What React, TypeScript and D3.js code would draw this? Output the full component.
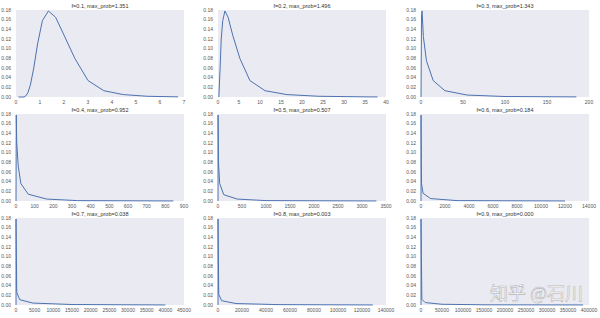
import React from "react";
import * as d3 from "d3";

const titles = [
  "f=0.1, max_prob=1.351",
  "f=0.2, max_prob=1.496",
  "f=0.3, max_prob=1.343",
  "f=0.4, max_prob=0.952",
  "f=0.5, max_prob=0.507",
  "f=0.6, max_prob=0.184",
  "f=0.7, max_prob=0.038",
  "f=0.8, max_prob=0.003",
  "f=0.9, max_prob=0.000",
];

const xs1 = [0.1, 0.33, 0.4, 0.49, 0.6, 0.74, 0.9, 1.1, 1.35, 1.65, 2.0, 2.45, 3.0, 3.66, 4.47, 5.46, 6.75];
const ys1 = [0, 0, 0.002, 0.008, 0.025, 0.06, 0.11, 0.158, 0.178, 0.165, 0.128, 0.08, 0.034, 0.013, 0.005, 0.0015, 0.0003];
const xs2 = [0.2, 0.5, 0.77, 1.13, 1.65, 2.4, 3.5, 5.2, 7.6, 11.2, 16.4, 24, 35, 38];
const ys2 = [0, 0.06, 0.12, 0.158, 0.178, 0.165, 0.128, 0.08, 0.034, 0.013, 0.005, 0.0015, 0.0003, 0.0001];
const xs3 = [0, 0.6, 1.3, 2.8, 6.5, 14.5, 28.5, 55, 100, 185];
const ys3 = [0, 0.17, 0.178, 0.125, 0.075, 0.034, 0.013, 0.004, 0.001, 0.0002];
const xs4 = [0, 1.3, 4, 12, 26, 66, 165, 330, 843];
const ys4 = [0, 0.178, 0.12, 0.072, 0.036, 0.014, 0.004, 0.0008, 0.0001];
const xs5 = [0, 1.3, 10, 35, 120, 400, 1000, 3300];
const ys5 = [0, 0.178, 0.08, 0.036, 0.013, 0.004, 0.0008, 0.0001];
const xs6 = [0, 1.3, 40, 170, 800, 3000, 12000];
const ys6 = [0, 0.178, 0.036, 0.016, 0.005, 0.0008, 0.0001];
const xs7 = [0, 1.3, 200, 1000, 4500, 15000, 40000];
const ys7 = [0, 0.178, 0.026, 0.011, 0.004, 0.001, 0.0001];
const xs8 = [0, 1.3, 600, 3000, 15000, 50000, 129000];
const ys8 = [0, 0.178, 0.022, 0.009, 0.003, 0.0008, 0.0001];
const xs9 = [0, 1.3, 2000, 10000, 50000, 150000, 386000];
const ys9 = [0, 0.178, 0.012, 0.005, 0.0015, 0.0004, 0.0001];

const xMax = [7, 40, 200, 900, 3500, 14000, 45000, 140000, 400000];
const xStep = [1, 5, 50, 100, 500, 2000, 5000, 20000, 50000];
const yTicks = [0, 0.02, 0.04, 0.06, 0.08, 0.1, 0.12, 0.14, 0.16, 0.18];

const allXs = [xs1, xs2, xs3, xs4, xs5, xs6, xs7, xs8, xs9];
const allYs = [ys1, ys2, ys3, ys4, ys5, ys6, ys7, ys8, ys9];

const colLeft = [16, 218, 421];
const rowTop = [10, 114, 218];
const PW = 168;
const PH = 87;
const FONT = "'Liberation Sans', Arial, sans-serif";

function Panel({ i }: { i: number }) {
  const left = colLeft[i % 3];
  const top = rowTop[Math.floor(i / 3)];
  const x = d3.scaleLinear().domain([0, xMax[i]]).range([0, PW]);
  const y = d3.scaleLinear().domain([0, 0.18]).range([PH, 0]);
  const pts = allXs[i].map((v, k) => [v, allYs[i][k]] as [number, number]);
  const line = d3
    .line<[number, number]>()
    .x((d) => x(d[0]))
    .y((d) => y(Math.min(d[1], 0.18)));
  const xt = d3.range(0, xMax[i] + xStep[i] / 2, xStep[i]);
  const fmt = d3.format(".2f");
  return (
    <g transform={`translate(${left},${top})`}>
      <rect x={0} y={0} width={PW} height={PH} fill="#EAEAF2" />
      <path d={line(pts) || ""} fill="none" stroke="#4C72B0" strokeWidth={1} />
      {yTicks.map((t) => (
        <text key={t} x={-5} y={y(t)} dy="0.35em" textAnchor="end" fontSize={5} fill="#555" fontFamily={FONT}>
          {fmt(t)}
        </text>
      ))}
      {xt.map((t) => (
        <text key={t} x={x(t)} y={PH + 7} textAnchor="middle" fontSize={5} fill="#555" fontFamily={FONT}>
          {String(t)}
        </text>
      ))}
      <text x={PW / 2} y={-2.5} textAnchor="middle" fontSize={5.5} fill="#333" fontFamily={FONT}>
        {titles[i]}
      </text>
    </g>
  );
}

export default function App() {
  return (
    <svg width={600} height={318} style={{ position: "absolute", left: 0, top: 0, background: "#fff" }}>
      <rect width={600} height={318} fill="#fff" />
      {titles.map((_, i) => (
        <Panel key={i} i={i} />
      ))}
      <text
        x={490}
        y={300}
        fontSize={18}
        fontFamily="'Noto Sans CJK SC', sans-serif"
        fill="#fff"
        fillOpacity={0.9}
        stroke="#999"
        strokeWidth={0.6}
        strokeOpacity={0.7}
      >
        知乎 @石川
      </text>
    </svg>
  );
}
